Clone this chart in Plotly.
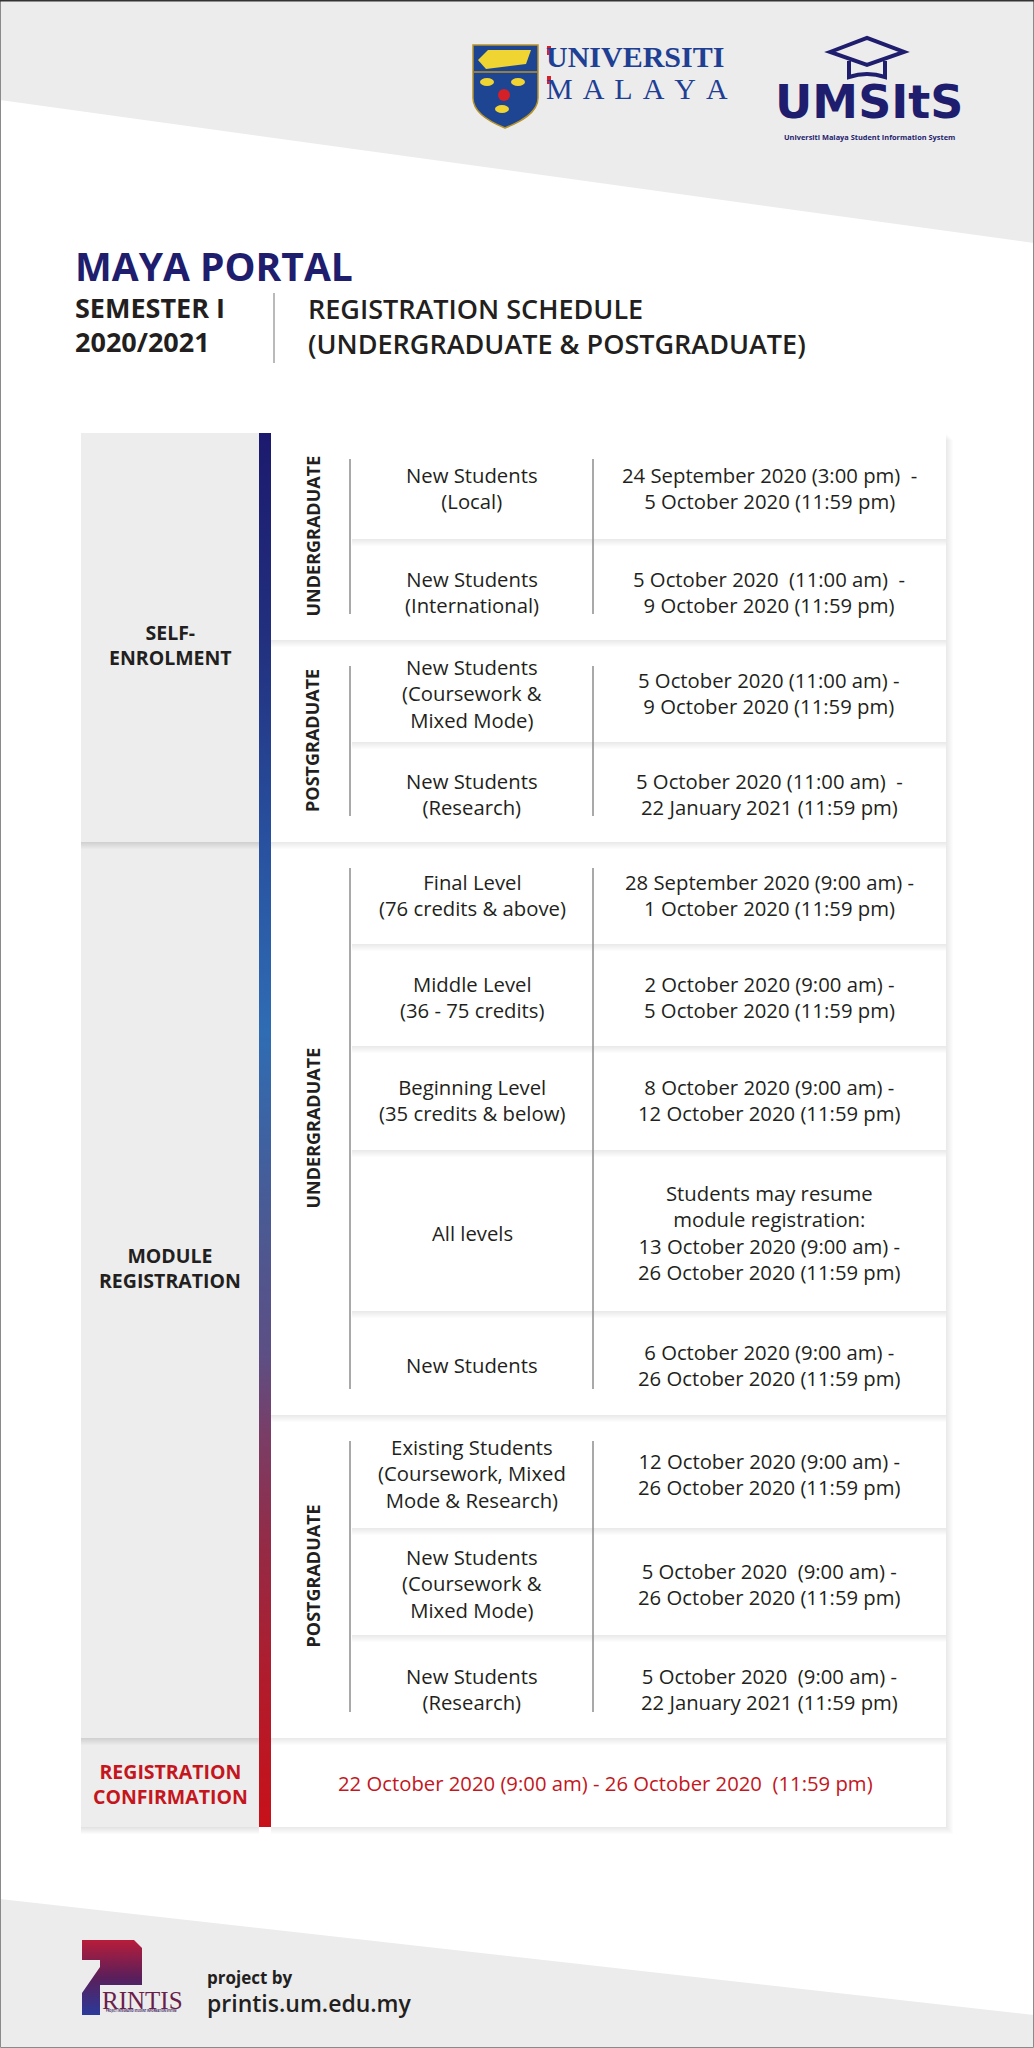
import plotly.graph_objects as go

W, H = 1034, 2048

# ---- poster text ----
title = "MAYA PORTAL"
semester = ["SEMESTER I", "2020/2021"]
subtitle = ["REGISTRATION SCHEDULE", "(UNDERGRADUATE & POSTGRADUATE)"]

section_labels = ["SELF-<br>ENROLMENT", "MODULE<br>REGISTRATION", "REGISTRATION<br>CONFIRMATION"]
level_labels = ["UNDERGRADUATE", "POSTGRADUATE", "UNDERGRADUATE", "POSTGRADUATE"]

self_ug_categories = ["New Students<br>(Local)", "New Students<br>(International)"]
self_ug_dates = [
    "24 September 2020 (3:00 pm)  -<br>5 October 2020 (11:59 pm)",
    "5 October 2020  (11:00 am)  -<br>9 October 2020 (11:59 pm)",
]
self_pg_categories = ["New Students<br>(Coursework &<br>Mixed Mode)", "New Students<br>(Research)"]
self_pg_dates = [
    "5 October 2020 (11:00 am) -<br>9 October 2020 (11:59 pm)",
    "5 October 2020 (11:00 am)  -<br>22 January 2021 (11:59 pm)",
]
module_ug_categories = [
    "Final Level<br>(76 credits & above)",
    "Middle Level<br>(36 - 75 credits)",
    "Beginning Level<br>(35 credits & below)",
    "All levels",
    "New Students",
]
module_ug_dates = [
    "28 September 2020 (9:00 am) -<br>1 October 2020 (11:59 pm)",
    "2 October 2020 (9:00 am) -<br>5 October 2020 (11:59 pm)",
    "8 October 2020 (9:00 am) -<br>12 October 2020 (11:59 pm)",
    "Students may resume<br>module registration:<br>13 October 2020 (9:00 am) -<br>26 October 2020 (11:59 pm)",
    "6 October 2020 (9:00 am) -<br>26 October 2020 (11:59 pm)",
]
module_pg_categories = [
    "Existing Students<br>(Coursework, Mixed<br>Mode & Research)",
    "New Students<br>(Coursework &<br>Mixed Mode)",
    "New Students<br>(Research)",
]
module_pg_dates = [
    "12 October 2020 (9:00 am) -<br>26 October 2020 (11:59 pm)",
    "5 October 2020  (9:00 am) -<br>26 October 2020 (11:59 pm)",
    "5 October 2020  (9:00 am) -<br>22 January 2021 (11:59 pm)",
]
confirm_dates = "22 October 2020 (9:00 am) - 26 October 2020  (11:59 pm)"

footer = ["project by", "printis.um.edu.my"]

groups = [
    (self_ug_categories, self_ug_dates),
    (self_pg_categories, self_pg_dates),
    (module_ug_categories, module_ug_dates),
    (module_pg_categories, module_pg_dates),
]

# ---- layout (pixel grid, y grows downward) ----
group_row_edges = [
    [433, 539, 640],
    [640, 742, 842],
    [842, 944, 1046, 1150, 1311, 1415],
    [1415, 1528, 1635, 1738],
]
confirm_row = (1738, 1827)
section_spans = [(433, 842), (842, 1738), (1738, 1827)]
section_label_y = [645, 1268, 1784]

COL_X0, BAR_X0, BAR_X1 = 81, 259, 271
LEVEL_X, INNER_X, DATE_X, CARD_X1 = 312, 350, 593, 946
CAT_CX, DATE_CX, SECTION_CX = 472, 769, 170

NAVY = "#1f1d6e"
INK = "#231f20"
RED = "#c4161c"
GREY_BG = "#ececec"
FONT = "Open Sans"
BODY = 20.3

BAR_SCALE = [
    [0.0, "#1c1a6e"], [0.15, "#22307f"], [0.29, "#28509e"], [0.43, "#2f6cb3"],
    [0.56, "#4a5a94"], [0.66, "#5c4f85"], [0.72, "#7a3d66"], [0.8, "#952a45"],
    [0.9, "#b21b2b"], [1.0, "#c8111a"],
]


def rect(x0, y0, x1, y1, fill, layer="below"):
    return dict(type="rect", xref="x", yref="y", x0=x0, y0=y0, x1=x1, y1=y1,
                fillcolor=fill, line=dict(width=0), layer=layer)


def shadow(x0, y0, x1, y1, alpha=0.012, side=0):
    # soft drop shadow: stacked translucent rects pushed down (and right if side)
    return [rect(x0, y0 + k, x1 + side * k, y1 + k, f"rgba(0,0,0,{alpha})")
            for k in range(1, 8)]


def vline(x, y0, y1, color="#8c8c8c", width=1.5):
    return dict(type="line", xref="x", yref="y", x0=x, x1=x, y0=y0, y1=y1,
                line=dict(color=color, width=width), layer="above")


def text(x, y, s, size, color=INK, weight=400, xanchor="center", angle=0, family=FONT):
    return dict(x=x, y=y, xref="x", yref="y", text=s, showarrow=False,
                xanchor=xanchor, yanchor="middle", textangle=angle,
                font=dict(family=family, size=size, color=color, weight=weight))


shapes = []
annotations = []

# background bands
shapes.append(dict(type="path", path=f"M0,0 L{W},0 L{W},243 L0,100 Z",
                   fillcolor=GREY_BG, line=dict(width=0), layer="below"))
shapes.append(dict(type="path", path=f"M0,1899 L{W},2015 L{W},{H} L0,{H} Z",
                   fillcolor=GREY_BG, line=dict(width=0), layer="below"))

# left grey column, bottom section first so shadows fall onto the one below
for (y0, y1) in reversed(section_spans):
    shapes += shadow(COL_X0, y0, BAR_X0, y1, 0.014)
    shapes.append(rect(COL_X0, y0, BAR_X0, y1, "#ededed"))

# confirmation card
shapes += shadow(BAR_X1, confirm_row[0], CARD_X1, confirm_row[1], 0.01, side=1)
shapes.append(rect(BAR_X1, confirm_row[0], CARD_X1, confirm_row[1], "white"))

# group cards and rows
for edges in reversed(group_row_edges):
    shapes += shadow(BAR_X1, edges[0], CARD_X1, edges[-1], 0.012, side=1)
    shapes.append(rect(BAR_X1, edges[0], CARD_X1, edges[-1], "white"))
    n = len(edges) - 1
    for i in reversed(range(n)):
        if i < n - 1:
            shapes += shadow(INNER_X + 2, edges[i], CARD_X1, edges[i + 1], 0.011)
        shapes.append(rect(INNER_X + 2, edges[i], CARD_X1, edges[i + 1], "white"))
    shapes.append(vline(INNER_X, edges[0] + 26, edges[-1] - 26))
    shapes.append(vline(DATE_X, edges[0] + 26, edges[-1] - 26))

# table text
for label, ly, (s0, s1) in zip(section_labels, section_label_y, section_spans):
    col = RED if s0 == confirm_row[0] else INK
    annotations.append(text(SECTION_CX, ly, label, 19.5, col, 700))

for (cats, dates), level, edges in zip(groups, level_labels, group_row_edges):
    annotations.append(text(LEVEL_X, (edges[0] + edges[-1]) / 2, level, 18, INK, 700, angle=-90))
    for i, (c, d) in enumerate(zip(cats, dates)):
        yc = (edges[i] + edges[i + 1]) / 2 + 2
        annotations.append(text(CAT_CX, yc, c, BODY, INK))
        annotations.append(text(DATE_CX, yc, d, BODY, INK))

annotations.append(text((BAR_X1 + CARD_X1) / 2 - 3, sum(confirm_row) / 2, confirm_dates, BODY, RED))

# gradient bar
fig = go.Figure()
fig.add_trace(go.Scatter(
    x=[BAR_X0, BAR_X1, BAR_X1, BAR_X0, BAR_X0],
    y=[section_spans[0][0], section_spans[0][0], confirm_row[1], confirm_row[1], section_spans[0][0]],
    mode="lines", line=dict(width=0), fill="toself",
    fillgradient=dict(type="vertical", colorscale=BAR_SCALE,
                      start=section_spans[0][0], stop=confirm_row[1]),
    hoverinfo="skip", showlegend=False,
))

# header
annotations.append(text(73, 265, title, 39, NAVY, 700, "left"))
annotations.append(text(73, 307, semester[0], 27, INK, 700, "left"))
annotations.append(text(73, 341, semester[1], 27, INK, 700, "left"))
shapes.append(vline(274, 293, 363, "#8c8c8c", 1.2))
annotations.append(text(306, 308, subtitle[0], 27, INK, 600, "left"))
annotations.append(text(306, 343, subtitle[1], 27, INK, 600, "left"))

# Universiti Malaya crest (simplified)
shapes.append(dict(type="path",
                   path="M473,45 L538,45 L538,98 C538,113 520,122 505,128 C490,122 473,113 473,98 Z",
                   fillcolor="#1d4592", line=dict(color="#b8932a", width=1.5), layer="above"))
shapes.append(dict(type="path", path="M478,60 L488,50 L531,50 L526,64 L486,69 Z",
                   fillcolor="#f0d431", line=dict(width=0), layer="above"))
shapes.append(dict(type="line", x0=474, x1=537, y0=72, y1=72,
                   line=dict(color="#b8932a", width=1.5), layer="above"))
for cx, cy in [(487, 82), (518, 82), (502, 109)]:
    shapes.append(dict(type="circle", x0=cx - 7, x1=cx + 7, y0=cy - 4, y1=cy + 4,
                       fillcolor="#f0d431", line=dict(width=0), layer="above"))
shapes.append(dict(type="circle", x0=498, x1=510, y0=89, y1=101,
                   fillcolor="#d42027", line=dict(width=0), layer="above"))
annotations.append(text(544, 56, "UNIVERSITI", 30, "#1f3f94", 700, "left", family="Liberation Serif"))
annotations.append(text(544, 88, "\u00a0\u200a".join("MALAYA"), 30, "#1f3f94", 400, "left",
                        family="Liberation Serif"))
shapes.append(rect(547, 46, 551, 55, "#d42027", "above"))
shapes.append(rect(547, 76, 551, 84, "#d42027", "above"))

# UMSItS mark
shapes.append(dict(type="path", path="M830,52 L867,38 L904,52 L867,65 Z",
                   line=dict(color=NAVY, width=4), layer="above"))
shapes.append(dict(type="path", path="M849,61 L849,77 Q867,71 885,77 L885,61",
                   line=dict(color=NAVY, width=4), layer="above"))
annotations.append(text(869, 102, "UMSItS", 46, NAVY, 700, family="DejaVu Sans"))
annotations.append(text(869, 137, "Universiti Malaya Student Information System", 7.4, NAVY, 700))

# footer: PRINTIS mark
fig.add_trace(go.Scatter(
    x=[82, 134, 142, 142, 100, 100, 82, 82, 100, 100, 82, 82],
    y=[1940, 1940, 1948, 1985, 1985, 2015, 2015, 1993, 1967, 1960, 1960, 1940],
    mode="lines", line=dict(width=0), fill="toself",
    fillgradient=dict(type="vertical", start=1940, stop=2015,
                      colorscale=[[0, "#b81d3a"], [0.5, "#5a1f5a"], [1, "#2a3a9a"]]),
    hoverinfo="skip", showlegend=False,
))
annotations.append(text(100, 2000, "RINTIS", 25, "#6a1f4a", 400, "left", family="Liberation Serif"))
annotations.append(text(141, 2011, "PROJECT INTEGRATED STUDENT INFORMATION SYSTEM", 2.6, "#3a1f5e", 700))
annotations.append(text(205, 1977, footer[0], 17, INK, 700, "left"))
annotations.append(text(205, 2003, footer[1], 23, INK, 600, "left"))

# thin frame round the poster
shapes.append(dict(type="rect", x0=0.5, x1=W - 0.5, y0=0.5, y1=H - 0.5,
                   line=dict(color="#8a8a8a", width=1), fillcolor="rgba(0,0,0,0)", layer="above"))
shapes.append(dict(type="line", x0=0, x1=W, y0=0.8, y1=0.8,
                   line=dict(color="#333333", width=1.5), layer="above"))

fig.update_layout(
    width=W, height=H,
    margin=dict(l=0, r=0, t=0, b=0),
    paper_bgcolor="white", plot_bgcolor="white",
    xaxis=dict(range=[0, W], visible=False, fixedrange=True),
    yaxis=dict(range=[H, 0], visible=False, fixedrange=True),
    shapes=shapes, annotations=annotations,
    showlegend=False,
)

fig.write_html("out.html", config={"displayModeBar": False},
               post_script="document.body.style.margin='0px';")
